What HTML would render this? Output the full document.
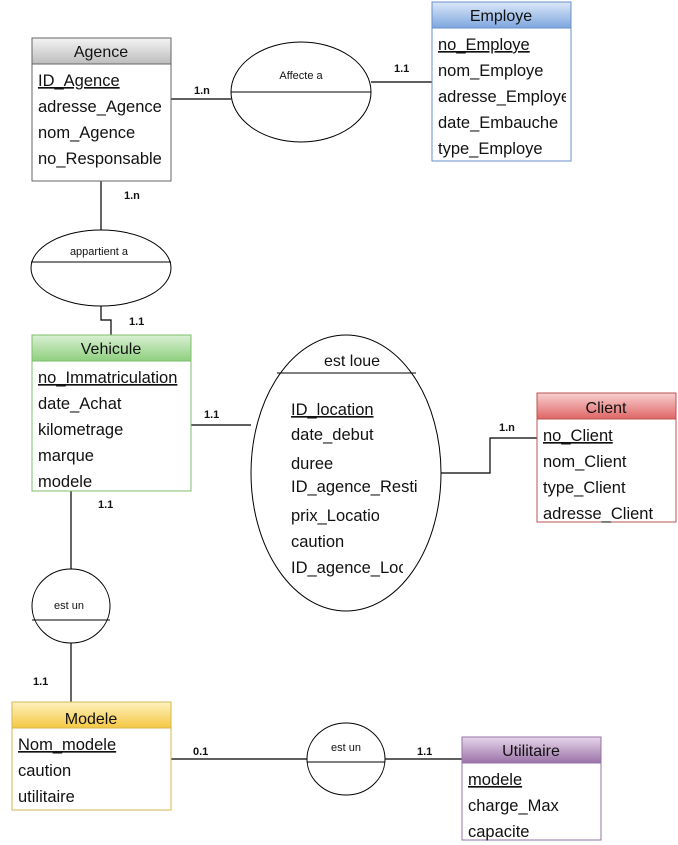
<!DOCTYPE html>
<html><head><meta charset="utf-8"><style>
html,body{margin:0;padding:0;background:#fff;}
svg{display:block;font-family:"Liberation Sans",Arial,sans-serif;}
.a{font-size:16.5px;fill:#111;}
.h{font-size:16px;fill:#111;text-anchor:middle;}
.c{font-size:11px;font-weight:bold;fill:#111;}
.r{font-size:11px;fill:#111;text-anchor:middle;}
.l{stroke:#000;stroke-width:1.2;fill:none;}
</style></head><body>
<svg width="678" height="845" viewBox="0 0 678 845">
<defs>
<linearGradient id="gg" x1="0" y1="0" x2="0" y2="1"><stop offset="0" stop-color="#f4f4f4"/><stop offset="1" stop-color="#bdbdbd"/></linearGradient>
<linearGradient id="gb" x1="0" y1="0" x2="0" y2="1"><stop offset="0" stop-color="#dbe8f8"/><stop offset="1" stop-color="#7ea6df"/></linearGradient>
<linearGradient id="ggr" x1="0" y1="0" x2="0" y2="1"><stop offset="0" stop-color="#d9f0d3"/><stop offset="1" stop-color="#8fcf7f"/></linearGradient>
<linearGradient id="gr" x1="0" y1="0" x2="0" y2="1"><stop offset="0" stop-color="#f8d0d0"/><stop offset="1" stop-color="#e06666"/></linearGradient>
<linearGradient id="gy" x1="0" y1="0" x2="0" y2="1"><stop offset="0" stop-color="#fff2c0"/><stop offset="1" stop-color="#f5c842"/></linearGradient>
<linearGradient id="gp" x1="0" y1="0" x2="0" y2="1"><stop offset="0" stop-color="#e6d6ea"/><stop offset="1" stop-color="#9b72a8"/></linearGradient>
</defs>

<path class="l" d="M171,99H231M371,82H432M101,181V236M101,306V320H111V335M191,425H251M441,473H490V438H537M71,491V569M71,643V702M171,759H307M385,759H462"/>
<text class="c" x="194" y="94">1.n</text>
<text class="c" x="394" y="72">1.1</text>
<text class="c" x="124" y="199">1.n</text>
<text class="c" x="129" y="325">1.1</text>
<text class="c" x="204" y="418">1.1</text>
<text class="c" x="499" y="431">1.n</text>
<text class="c" x="98" y="508">1.1</text>
<text class="c" x="33" y="685">1.1</text>
<text class="c" x="193" y="755">0.1</text>
<text class="c" x="417" y="755">1.1</text>

<rect x="32" y="38" width="139" height="143" fill="#fff" stroke="#666"/>
<rect x="32" y="38" width="139" height="26" fill="url(#gg)" stroke="#666"/>
<text class="h" x="101" y="57">Agence</text>
<text class="a" x="38" y="86" text-decoration="underline">ID_Agence</text>
<text class="a" x="38" y="112">adresse_Agence</text>
<text class="a" x="38" y="138">nom_Agence</text>
<text class="a" x="38" y="164">no_Responsable</text>

<ellipse cx="301" cy="92" rx="70" ry="50" fill="#fff" stroke="#000"/>
<line x1="231" y1="92" x2="371" y2="92" stroke="#000"/>
<text class="r" x="301" y="79">Affecte a</text>

<rect x="432" y="2" width="139" height="159" fill="#fff" stroke="#6a8fc8"/>
<rect x="432" y="2" width="139" height="26" fill="url(#gb)" stroke="#6a8fc8"/>
<text class="h" x="501" y="21">Employe</text>
<text class="a" x="438" y="50" text-decoration="underline">no_Employe</text>
<text class="a" x="438" y="76">nom_Employe</text>
<svg x="432" y="80" width="134" height="30"><text class="a" x="6" y="22">adresse_Employe</text></svg>
<text class="a" x="438" y="128">date_Embauche</text>
<text class="a" x="438" y="154">type_Employe</text>

<ellipse cx="101" cy="268" rx="70" ry="38" fill="#fff" stroke="#000"/>
<line x1="31" y1="262" x2="171" y2="262" stroke="#000"/>
<text class="r" x="99" y="255">appartient a</text>

<rect x="32" y="335" width="159" height="156" fill="#fff" stroke="#7cbf6c"/>
<rect x="32" y="335" width="159" height="26" fill="url(#ggr)" stroke="#7cbf6c"/>
<text class="h" x="111" y="354">Vehicule</text>
<text class="a" x="38" y="383" text-decoration="underline">no_Immatriculation</text>
<text class="a" x="38" y="409">date_Achat</text>
<text class="a" x="38" y="435">kilometrage</text>
<text class="a" x="38" y="461">marque</text>
<text class="a" x="38" y="487">modele</text>

<ellipse cx="346" cy="473" rx="95" ry="138" fill="#fff" stroke="#000"/>
<line x1="277" y1="373" x2="416" y2="373" stroke="#000"/>
<text class="h" x="352" y="366">est loue</text>
<svg x="251" y="390" width="166" height="200">
<text class="a" x="40" y="25" text-decoration="underline">ID_location</text>
<text class="a" x="40" y="50">date_debut</text>
<text class="a" x="40" y="79">duree</text>
<text class="a" x="40" y="102">ID_agence_Restitution</text>
</svg>
<svg x="251" y="490" width="128" height="100">
<text class="a" x="40" y="31">prix_Location</text>
<text class="a" x="40" y="57">caution</text>
</svg>
<svg x="251" y="550" width="152" height="40">
<text class="a" x="40" y="23">ID_agence_Location</text>
</svg>

<rect x="537" y="393" width="139" height="129" fill="#fff" stroke="#b85450"/>
<rect x="537" y="393" width="139" height="26" fill="url(#gr)" stroke="#b85450"/>
<text class="h" x="606" y="413">Client</text>
<text class="a" x="543" y="441" text-decoration="underline">no_Client</text>
<text class="a" x="543" y="467">nom_Client</text>
<text class="a" x="543" y="493">type_Client</text>
<text class="a" x="543" y="519">adresse_Client</text>

<ellipse cx="71" cy="606" rx="39" ry="37" fill="#fff" stroke="#000"/>
<line x1="32" y1="620" x2="110" y2="620" stroke="#000"/>
<text class="r" x="69" y="609">est un</text>

<rect x="12" y="702" width="159" height="108" fill="#fff" stroke="#d6b656"/>
<rect x="12" y="702" width="159" height="26" fill="url(#gy)" stroke="#d6b656"/>
<text class="h" x="91" y="724">Modele</text>
<text class="a" x="18" y="750" text-decoration="underline">Nom_modele</text>
<text class="a" x="18" y="776">caution</text>
<text class="a" x="18" y="802">utilitaire</text>

<ellipse cx="346" cy="759" rx="39" ry="36" fill="#fff" stroke="#000"/>
<line x1="307" y1="762" x2="385" y2="762" stroke="#000"/>
<text class="r" x="346" y="751">est un</text>

<rect x="462" y="737" width="139" height="103" fill="#fff" stroke="#9673a6"/>
<rect x="462" y="737" width="139" height="26" fill="url(#gp)" stroke="#9673a6"/>
<text class="h" x="531" y="756">Utilitaire</text>
<text class="a" x="468" y="785" text-decoration="underline">modele</text>
<text class="a" x="468" y="811">charge_Max</text>
<text class="a" x="468" y="837">capacite</text>
</svg>
</body></html>
